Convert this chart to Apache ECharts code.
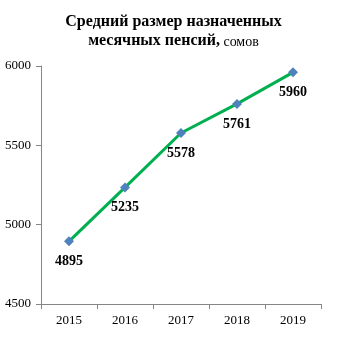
<!DOCTYPE html>
<html>
<head>
<meta charset="utf-8">
<script src="https://cdn.jsdelivr.net/npm/echarts@6/dist/echarts.min.js"></script>
<style>
  html, body { margin: 0; padding: 0; background: #fff; }
  #chart { width: 347px; height: 341px; }
</style>
</head>
<body>
<div id="chart"></div>
<script>
// Average assigned monthly pension, soms
const years = ['2015', '2016', '2017', '2018', '2019'];
const pensions = [4895, 5235, 5578, 5761, 5960];
const yTicks = { min: 4500, max: 6000, interval: 500 };

const serif = '"Liberation Serif", "Times New Roman", serif';
const axisGray = '#868686';

const chart = echarts.init(document.getElementById('chart'));
chart.setOption({
  animation: false,
  title: {
    text: '{b|Средний размер назначенных}\n{b|месячных пенсий,}{n| сомов}',
    left: 'center',
    top: 6,
    textStyle: {
      rich: {
        b: { fontFamily: serif, fontSize: 16, fontWeight: 'bold', color: '#000', lineHeight: 19, verticalAlign: 'bottom' },
        n: { fontFamily: serif, fontSize: 14, fontWeight: 'normal', color: '#000', lineHeight: 19, verticalAlign: 'bottom' }
      }
    }
  },
  grid: { left: 41, right: 26, top: 66, bottom: 37 },
  xAxis: {
    type: 'category',
    data: years,
    boundaryGap: true,
    axisLine: { lineStyle: { color: axisGray } },
    axisTick: { show: true, length: 5, lineStyle: { color: axisGray } },
    axisLabel: { fontFamily: serif, fontSize: 13, color: '#000', margin: 10 }
  },
  yAxis: {
    type: 'value',
    min: yTicks.min,
    max: yTicks.max,
    interval: yTicks.interval,
    axisLine: { show: true, lineStyle: { color: axisGray } },
    axisTick: { show: true, length: 5, lineStyle: { color: axisGray } },
    splitLine: { show: false },
    axisLabel: { fontFamily: serif, fontSize: 13, color: '#000', margin: 10, formatter: (v) => String(v) }
  },
  series: [{
    type: 'line',
    data: pensions,
    symbol: 'diamond',
    symbolSize: 10,
    lineStyle: { color: '#00B050', width: 3 },
    itemStyle: { color: '#4F81BD' },
    label: {
      show: true,
      position: 'bottom',
      distance: 8,
      fontFamily: serif,
      fontSize: 14,
      fontWeight: 'bold',
      color: '#000'
    }
  }]
});
</script>
</body>
</html>
